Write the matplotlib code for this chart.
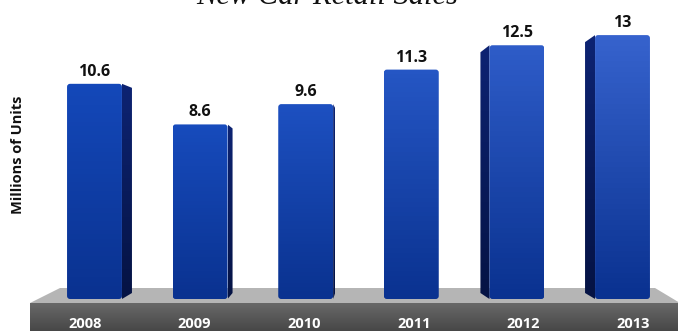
import numpy as np
import matplotlib
matplotlib.use('Agg')
import matplotlib.pyplot as plt
from matplotlib.patches import FancyBboxPatch, Polygon
from matplotlib.colors import LinearSegmentedColormap

# ---- data ----
years = ['2008', '2009', '2010', '2011', '2012', '2013']
sales = [10.6, 8.6, 9.6, 11.3, 12.5, 13]
title = 'New Car Retail Sales'
ylabel = 'Millions of Units'

# ---- layout (pixels) ----
W, H = 678, 331
x0_px, step_px = 94.5, 105.6     # first bar centre, spacing
base_px = 299                     # y of value 0 (from top)
ppu = 20.3                        # pixels per unit
bar_w = 0.52
side_px = [10, 5, 2, 0, -9, -10]  # perspective side faces

fig = plt.figure(figsize=(W / 100, H / 100), dpi=100)
ax = fig.add_axes([0, 0, 1, 1])
ax.set_axis_off()
ax.set_xlim(-x0_px / step_px, (W - x0_px) / step_px)
ax.set_ylim(-(H - base_px) / ppu, base_px / ppu)


def P(xp, yp):
    return ((xp - x0_px) / step_px, (base_px - yp) / ppu)


# ---- platform ----
top_poly = Polygon([P(30, 303), P(60, 288), P(655, 288), P(680, 303)],
                   closed=True, facecolor='#b5b5b5', edgecolor='none', zorder=1)
ax.add_patch(top_poly)
front_cmap = LinearSegmentedColormap.from_list('f', ['#454545', '#686868'])
(fx0, fy0), (fx1, fy1) = P(30, 331), P(680, 303)
front_rect = Polygon([P(30, 303), P(680, 303), P(680, 332), P(30, 332)],
                     closed=True, facecolor='none', edgecolor='none', zorder=1)
ax.add_patch(front_rect)
im = ax.imshow(np.linspace(0, 1, 50).reshape(-1, 1), extent=(fx0, fx1, fy0 - 0.1, fy1),
               origin='lower', cmap=front_cmap, aspect='auto', zorder=1)
im.set_clip_path(front_rect)

# ---- bars ----
side_cmap = LinearSegmentedColormap.from_list('s', ['#051344', '#0d2372'])
tops_col = ['#1448b9', '#174bbc', '#1d50c0', '#2556c4', '#2e5cc8', '#3662cd']
for i, (v, d) in enumerate(zip(sales, side_px)):
    left, right = i - bar_w / 2, i + bar_w / 2
    if d != 0:
        edge = right if d > 0 else left
        drop = 4 if d > 0 else 7
        ex = edge + d / step_px
        side = Polygon([(edge, v), (ex, v - drop / ppu), (ex, 6 / ppu), (edge, 0)],
                       closed=True, facecolor='none', edgecolor='none', zorder=2)
        ax.add_patch(side)
        sim = ax.imshow(np.linspace(0, 1, 50).reshape(-1, 1),
                        extent=(min(edge, ex), max(edge, ex), 0, v),
                        origin='lower', cmap=side_cmap, aspect='auto', zorder=2)
        sim.set_clip_path(side)
    r = 3 / step_px
    front = FancyBboxPatch((left, 0), bar_w, v,
                           boxstyle=f'round,pad=0,rounding_size={r}',
                           mutation_aspect=step_px / ppu,
                           facecolor='none', edgecolor='none', zorder=3)
    ax.add_patch(front)
    cm = LinearSegmentedColormap.from_list('b%d' % i, ['#0a3290', tops_col[i]])
    fim = ax.imshow(np.linspace(0, 1, 50).reshape(-1, 1), extent=(left, right, 0, v),
                    origin='lower', cmap=cm, aspect='auto', zorder=3)
    fim.set_clip_path(front)
    ax.text(i, v + 8 / ppu, f'{v:g}', ha='center', va='baseline', fontsize=11.5,
            fontweight='bold', family='Open Sans', color='#111111', zorder=5)
    lx = i * 1.038 - 0.09
    ax.text(lx, P(0, 328)[1], years[i], ha='center', va='baseline', fontsize=10.5,
            fontweight='bold', family='Open Sans', color='white', zorder=5)

# ---- title and axis label ----
tx, ty = P(327, 4)
ax.text(tx, ty, title, ha='center', va='baseline', fontsize=22, style='italic',
        family='Liberation Serif', color='#111111')
lx, ly = P(18, 155)
ax.text(lx, ly, ylabel, ha='center', va='center', rotation=90, fontsize=10.5,
        fontweight='bold', family='Open Sans', color='#111111')

fig.savefig('out.png', dpi=100)
